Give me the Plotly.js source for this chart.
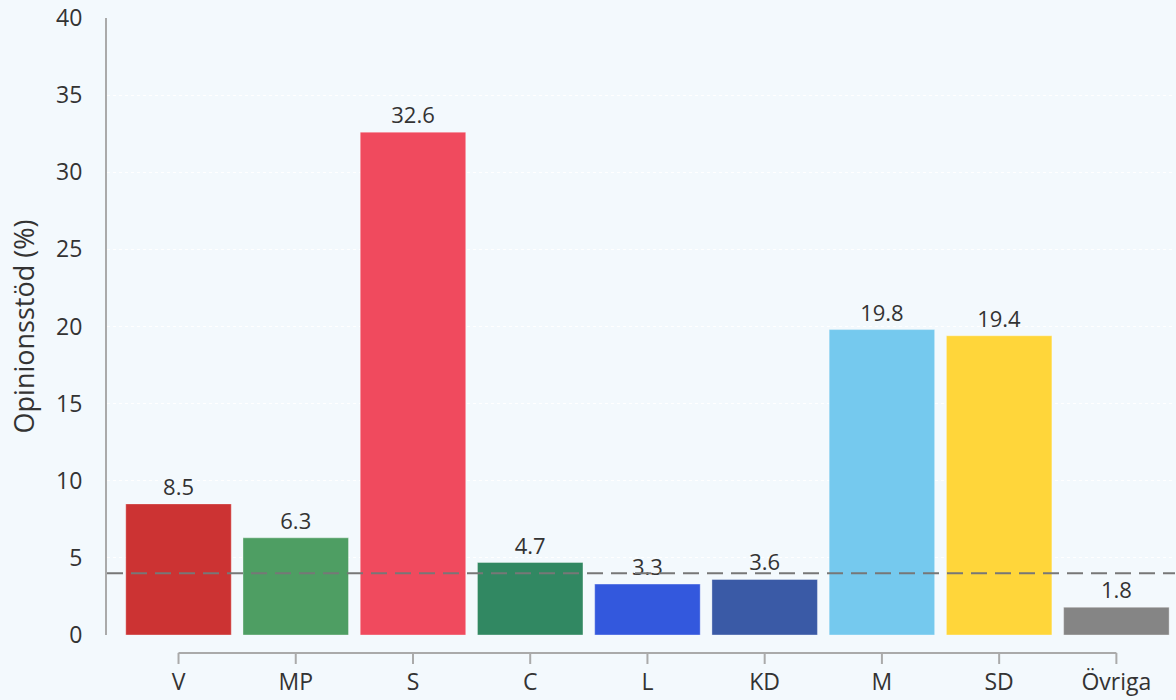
<!DOCTYPE html>
<html>
<head>
<meta charset="utf-8">
<script src="https://cdn.plot.ly/plotly-3.0.1.min.js"></script>
<style>html,body{margin:0;padding:0;background:#f3f9fd;}#chart{width:1176px;height:700px;}</style>
</head>
<body>
<div id="chart"></div>
<script>
const parties = ["V", "MP", "S", "C", "L", "KD", "M", "SD", "Övriga"];
const support = [8.5, 6.3, 32.6, 4.7, 3.3, 3.6, 19.8, 19.4, 1.8];
const partyColors = ["#cc3333", "#4e9e63", "#f04a5e", "#318862", "#3358dd", "#3a5aa6", "#75c9ee", "#ffd63a", "#858585"];
const threshold = 4;
const yTicks = [0, 5, 10, 15, 20, 25, 30, 35, 40];

const idx = parties.map((_, i) => i);
const fontFam = "'Open Sans', 'Noto Sans', sans-serif";

const trace = {
  type: "bar",
  x: idx,
  y: support,
  width: 0.9,
  marker: { color: partyColors, line: { color: "rgba(255,255,255,0.35)", width: 1 } },
  text: support.map(v => v.toFixed(1)),
  textposition: "outside",
  cliponaxis: false,
  textfont: { family: fontFam, size: 22, color: "#333333" },
  hoverinfo: "skip"
};

const shapes = [];
shapes.push({ type: "line", xref: "paper", yref: "y", x0: 0, x1: 1, y0: threshold, y1: threshold,
  line: { color: "#777777", width: 2, dash: "16px,8px" }, layer: "above" });
shapes.push({ type: "line", xref: "x", yref: "paper", x0: idx[0], x1: idx[idx.length - 1], y0: -0.029, y1: -0.029,
  line: { color: "#aaaaaa", width: 2 } });
idx.forEach(i => {
  shapes.push({ type: "line", xref: "x", yref: "paper", x0: i, x1: i, y0: -0.029, y1: -0.047,
    line: { color: "#aaaaaa", width: 2 } });
});

const layout = {
  width: 1176, height: 700,
  paper_bgcolor: "#f3f9fd",
  plot_bgcolor: "#f3f9fd",
  margin: { l: 107, r: 1, t: 18, b: 65 },
  showlegend: false,
  bargap: 0.1,
  font: { family: fontFam, color: "#333333" },
  xaxis: {
    range: [-0.61, 8.5],
    tickvals: idx,
    ticktext: parties,
    showline: false, showgrid: false, zeroline: false,
    ticks: "",
    ticklabelstandoff: 31,
    tickfont: { family: fontFam, size: 23, color: "#333333" }
  },
  yaxis: {
    range: [0, 40],
    tickvals: yTicks,
    ticktext: yTicks.map(String),
    showline: true, linecolor: "#aaaaaa", linewidth: 2,
    showgrid: true, gridcolor: "#ffffff", griddash: "dot", gridwidth: 1,
    zeroline: false,
    ticks: "",
    ticklabelstandoff: 18,
    tickfont: { family: fontFam, size: 23, color: "#333333" },
    title: { text: "Opinionsstöd (%)", font: { family: fontFam, size: 27, color: "#333333" }, standoff: 14 }
  },
  shapes: shapes
};

Plotly.newPlot("chart", [trace], layout, { displayModeBar: false, staticPlot: true });
</script>
</body>
</html>
